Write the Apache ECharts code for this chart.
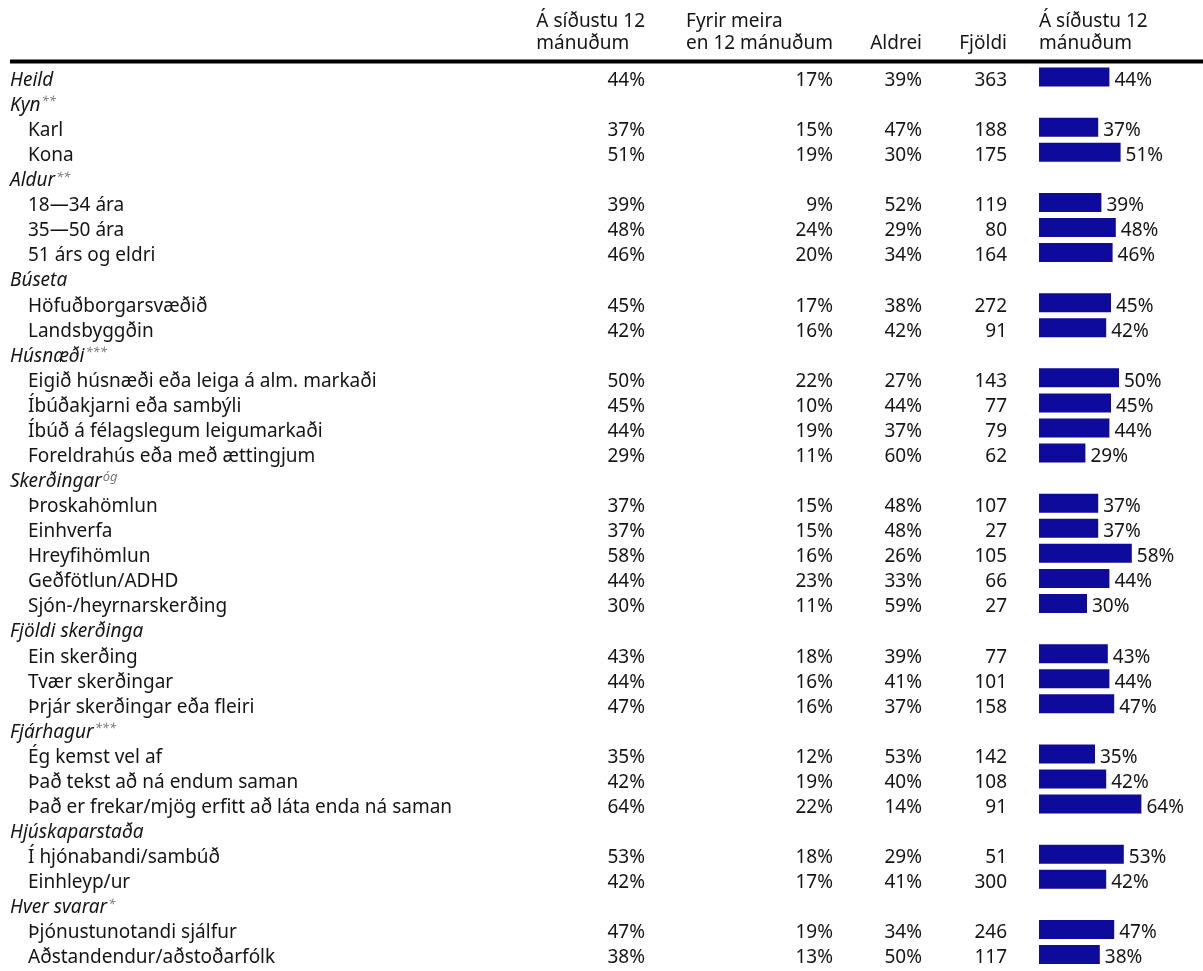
<!DOCTYPE html>
<html><head><meta charset="utf-8">
<script src="https://cdn.jsdelivr.net/npm/echarts@6/dist/echarts.min.js"></script>
<style>html,body{margin:0;padding:0;background:#fff}#c{width:1203px;height:971px}</style>
</head><body><div id="c"></div><script>
// ---- data ----
const rowLabels = ['Heild','Kyn','Karl','Kona','Aldur','18—34 ára','35—50 ára','51 árs og eldri','Búseta','Höfuðborgarsvæðið','Landsbyggðin','Húsnæði','Eigið húsnæði eða leiga á alm. markaði','Íbúðakjarni eða sambýli','Íbúð á félagslegum leigumarkaði','Foreldrahús eða með ættingjum','Skerðingar','Þroskahömlun','Einhverfa','Hreyfihömlun','Geðfötlun/ADHD','Sjón-/heyrnarskerðing','Fjöldi skerðinga','Ein skerðing','Tvær skerðingar','Þrjár skerðingar eða fleiri','Fjárhagur','Ég kemst vel af','Það tekst að ná endum saman','Það er frekar/mjög erfitt að láta enda ná saman','Hjúskaparstaða','Í hjónabandi/sambúð','Einhleyp/ur','Hver svarar','Þjónustunotandi sjálfur','Aðstandendur/aðstoðarfólk'];
const rowKind = ['t','g','i','i','g','i','i','i','g','i','i','g','i','i','i','i','g','i','i','i','i','i','g','i','i','i','g','i','i','i','g','i','i','g','i','i'];
const rowSup = ['','**','','','**','','','','','','','***','','','','','óg','','','','','','','','','','***','','','','','','','*','',''];
const last12 = [44,null,37,51,null,39,48,46,null,45,42,null,50,45,44,29,null,37,37,58,44,30,null,43,44,47,null,35,42,64,null,53,42,null,47,38];
const more12 = [17,null,15,19,null,9,24,20,null,17,16,null,22,10,19,11,null,15,15,16,23,11,null,18,16,16,null,12,19,22,null,18,17,null,19,13];
const never  = [39,null,47,30,null,52,29,34,null,38,42,null,27,44,37,60,null,48,48,26,33,59,null,39,41,37,null,53,40,14,null,29,41,null,34,50];
const counts = [363,null,188,175,null,119,80,164,null,272,91,null,143,77,79,62,null,107,27,105,66,27,null,77,101,158,null,142,108,91,null,51,300,null,246,117];
const colHeaders = ['Á síðustu 12\nmánuðum','Fyrir meira\nen 12 mánuðum','Aldrei','Fjöldi','Á síðustu 12\nmánuðum'];

// ---- style ----
const FONT = 'Noto Sans';
const FS = 19;
const TXT = '#151515';
const BAR = '#0e0a9c';
const GRID_LEFT = 1039;
const colRight = [645, 833, 922, 1007];
const SHIFT = [7,0,0,0];

const cv = document.createElement('canvas').getContext('2d');
cv.font = FS + 'px "' + FONT + '"';
function tw(s){ return Math.max(...s.split('\n').map(l=>cv.measureText(l).width)); }

const vRich = {v:{fontFamily:FONT, fontSize:FS, color:TXT, padding:SHIFT}};
function valueAxis(right, arr, fmt){
  return {
    type:'category', data: rowLabels, inverse:true, position:'left',
    offset: GRID_LEFT - right,
    axisLine:{show:false}, axisTick:{show:false}, splitLine:{show:false},
    axisLabel:{interval:0, margin:0, align:'right', fontFamily:FONT, fontSize:FS, color:TXT,
      formatter:(v,i)=> arr[i]==null ? '' : '{v|' + fmt(arr[i]) + '}', rich: vRich}
  };
}
const pct = v => v + '%';

const chart = echarts.init(document.getElementById('c'), null, {renderer:'canvas'});
const headerGraphics = [];
const hfont = FS+'px "'+FONT+'"';
[0,1].forEach(k=>{
  headerGraphics.push({type:'text', left: colRight[k] - tw(colHeaders[k]), top: 11,
    style:{text: colHeaders[k], font: hfont, fill: TXT, lineHeight: 22, align:'left'}});
});
[2,3].forEach(k=>{
  headerGraphics.push({type:'text', left: colRight[k] - tw(colHeaders[k]), top: 33,
    style:{text: colHeaders[k], font: hfont, fill: TXT, lineHeight: 22}});
});
headerGraphics.push({type:'text', left: GRID_LEFT, top: 11,
  style:{text: colHeaders[4], font: hfont, fill: TXT, lineHeight: 22}});
headerGraphics.push({type:'line', shape:{x1:10, y1:61.5, x2:1203, y2:61.5}, style:{stroke:'#000', lineWidth:4}});

chart.setOption({
  animation:false,
  backgroundColor:'#fff',
  graphic: headerGraphics,
  grid:{left:GRID_LEFT, right:4, top:64.5, bottom:4, containLabel:false},
  xAxis:{type:'value', min:0, max:100, show:false},
  yAxis:[
    {
      type:'category', data: rowLabels, inverse:true, position:'left', offset: GRID_LEFT - 10,
      axisLine:{show:false}, axisTick:{show:false}, splitLine:{show:false},
      axisLabel:{interval:0, margin:0, align:'left', fontFamily:FONT, fontSize:FS, color:TXT,
        formatter:(v,i)=>{
          if(rowKind[i]==='i') return '{i|'+v+'}';
          return '{g|'+v+'}' + (rowSup[i] ? '{s|'+rowSup[i]+'}' : '');
        },
        rich:{
          i:{fontFamily:FONT, fontSize:FS, color:TXT, padding:[SHIFT[0],0,0,18]},
          g:{fontFamily:FONT, fontSize:FS, color:TXT, fontStyle:'italic', padding:SHIFT},
          s:{fontFamily:FONT, fontSize:13, color:'#777', fontStyle:'italic', verticalAlign:'top', padding:[6,0,0,1]}
        }
      }
    },
    valueAxis(colRight[0], last12, pct),
    valueAxis(colRight[1], more12, pct),
    valueAxis(colRight[2], never, pct),
    valueAxis(colRight[3], counts, v=>String(v))
  ],
  series:[{
    type:'bar', yAxisIndex:0, data: last12, barWidth:19,
    itemStyle:{color:BAR},
    label:{show:true, position:'right', distance:5, formatter:p=>'{v|'+p.value+'%}', rich: vRich, fontFamily:FONT, fontSize:FS, color:TXT}
  }]
});
</script></body></html>
